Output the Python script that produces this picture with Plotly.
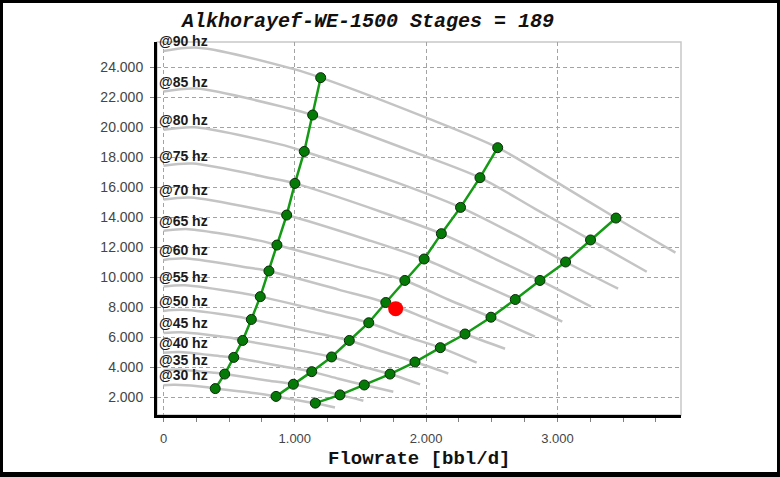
import plotly.graph_objects as go

# ---------------- data ----------------
freqs = [90, 85, 80, 75, 70, 65, 60, 55, 50, 45, 40, 35, 30]

# gray head curves, flow [bbl/d] and head, one pair per frequency
q90 = [0, 265, 1000, 1197, 2000, 2545, 3000, 3446, 3899]
h90 = [25070, 25290, 23840, 23290, 20620, 18620, 16290, 13930, 11620]
q85 = [0, 250, 944, 1136, 1889, 2410, 2833, 3252, 3680]
h85 = [22360, 22560, 21270, 20800, 18390, 16620, 14530, 12470, 10350]
q80 = [0, 236, 889, 1072, 1778, 2262, 2667, 3062, 3462]
h80 = [19810, 19980, 18840, 18370, 16290, 14640, 12870, 11000, 9220]
q75 = [0, 221, 833, 1001, 1667, 2116, 2500, 2867, 3256]
h75 = [17410, 17560, 16560, 16240, 14320, 12890, 11310, 9770, 8020]
q70 = [0, 206, 778, 938, 1556, 1985, 2333, 2679, 3037]
h70 = [15160, 15300, 14420, 14130, 12470, 11200, 9850, 8500, 7020]
q65 = [0, 191, 722, 864, 1444, 1838, 2167, 2494, 2829]
h65 = [13080, 13190, 12440, 12130, 10760, 9770, 8500, 7320, 6020]
q60 = [0, 177, 667, 803, 1333, 1693, 2000, 2296, 2601]
h60 = [11140, 11240, 10600, 10400, 9160, 8300, 7240, 6200, 5220]
q55 = [0, 162, 611, 737, 1222, 1563, 1833, 2108, 2385]
h55 = [9360, 9450, 8900, 8690, 7700, 6950, 6080, 5290, 4290]
q50 = [0, 147, 556, 669, 1111, 1415, 1667, 1915, 2169]
h50 = [7740, 7810, 7360, 7170, 6360, 5770, 5030, 4330, 3570]
q45 = [0, 133, 500, 603, 1000, 1280, 1500, 1725, 1954]
h45 = [6270, 6320, 5960, 5770, 5160, 4670, 4070, 3530, 2840]
q40 = [0, 118, 444, 535, 889, 1129, 1333, 1529, 1750]
h40 = [4950, 5000, 4710, 4640, 4070, 3690, 3220, 2800, 2350]
q35 = [0, 103, 389, 466, 778, 989, 1167, 1344, 1522]
h35 = [3790, 3830, 3610, 3530, 3120, 2850, 2500, 2140, 1750]
q30 = [0, 88, 333, 394, 667, 857, 1000, 1156, 1306]
h30 = [2790, 2810, 2650, 2560, 2290, 2040, 1810, 1590, 1300]

curve_q = [q90, q85, q80, q75, q70, q65, q60, q55, q50, q45, q40, q35, q30]
curve_h = [h90, h85, h80, h75, h70, h65, h60, h55, h50, h45, h40, h35, h30]

# green operating-range lines (90 Hz ... 30 Hz)
min_q = [1197, 1136, 1072, 1001, 938, 864, 803, 737, 669, 603, 535, 466, 394]
min_h = [23290, 20800, 18370, 16240, 14130, 12130, 10400, 8690, 7170, 5770, 4640, 3530, 2560]
bep_q = [2545, 2410, 2262, 2116, 1985, 1838, 1693, 1563, 1415, 1280, 1129, 989, 857]
bep_h = [18620, 16620, 14640, 12890, 11200, 9770, 8300, 6950, 5770, 4670, 3690, 2850, 2040]
max_q = [3446, 3252, 3062, 2867, 2679, 2494, 2296, 2108, 1915, 1725, 1529, 1344, 1156]
max_h = [13930, 12470, 11000, 9770, 8500, 7320, 6200, 5290, 4330, 3530, 2800, 2140, 1590]

# operating point
op_q = [1768]
op_h = [7890]

x_tickvals = [0, 1000, 2000, 3000]
x_ticktext = ["0", "1.000", "2.000", "3.000"]
y_tickvals = [2000, 4000, 6000, 8000, 10000, 12000, 14000, 16000, 18000, 20000, 22000, 24000]
y_ticktext = ["2.000", "4.000", "6.000", "8.000", "10.000", "12.000", "14.000",
              "16.000", "18.000", "20.000", "22.000", "24.000"]

title_text = "Alkhorayef-WE-1500 Stages = 189"
xtitle_text = "Flowrate [bbl/d]"

# ---------------- figure ----------------
fig = go.Figure()

for q, h in zip(curve_q, curve_h):
    fig.add_trace(go.Scatter(x=q, y=h, mode="lines",
                             line=dict(color="#c4c4c4", width=2.5, shape="spline", smoothing=0.8),
                             hoverinfo="skip", showlegend=False))

for q, h in [(min_q, min_h), (bep_q, bep_h), (max_q, max_h)]:
    fig.add_trace(go.Scatter(x=q, y=h, mode="lines+markers",
                             line=dict(color="#159a15", width=2.5),
                             marker=dict(color="#067a06", size=10,
                                         line=dict(color="#0c2a0c", width=1)),
                             showlegend=False))

fig.add_trace(go.Scatter(x=op_q, y=op_h, mode="markers",
                         marker=dict(color="#ff0000", size=15, line=dict(width=0)),
                         showlegend=False))

# frequency labels at the start of each curve
for f, h in zip(freqs, curve_h):
    fig.add_annotation(x=-49.5, y=h[0], xref="x", yref="y", text=f"<b>@{f} hz</b>",
                       showarrow=False, xanchor="left", yanchor="bottom", yshift=0,
                       font=dict(family="Liberation Sans", size=14, color="#1a1a1a"))

L, R, T, B = 157, 99, 42, 62
W, H = 780, 477
pw, ph = W - L - R, H - T - B


def px2paper(px):
    return (px - L) / pw


def py2paper(py):
    return (H - B - py) / ph


fig.add_annotation(x=px2paper(367), y=py2paper(22), xref="paper", yref="paper",
                   text=f"<b><i>{title_text}</i></b>", showarrow=False,
                   xanchor="center", yanchor="middle",
                   font=dict(family="Liberation Mono", size=20, color="#111111"))
fig.add_annotation(x=px2paper(419), y=py2paper(459), xref="paper", yref="paper",
                   text=f"<b>{xtitle_text}</b>", showarrow=False,
                   xanchor="center", yanchor="middle",
                   font=dict(family="Liberation Mono", size=19, color="#111111"))

# light-gray plot border (top/right)
fig.add_shape(type="rect", xref="paper", yref="paper", x0=0, y0=0, x1=1, y1=1,
              line=dict(color="#c8c8c8", width=1.5), layer="below")

# black outer frame of the image
frame = [(-10, -10, 3, H + 10), (W - 3, -10, W + 10, H + 10),
         (-10, -10, W + 10, 3), (-10, H - 5, W + 10, H + 10)]
for x0, y0, x1, y1 in frame:
    fig.add_shape(type="rect", xref="paper", yref="paper",
                  x0=px2paper(x0), x1=px2paper(x1), y0=py2paper(y1), y1=py2paper(y0),
                  fillcolor="black", line=dict(width=0), layer="above")

grid = dict(showgrid=True, gridcolor="#a3a3a3", griddash="4px,3px", gridwidth=1.2, zeroline=False)

fig.update_layout(
    width=W, height=H,
    margin=dict(l=L, r=R, t=T, b=B, pad=0),
    paper_bgcolor="white", plot_bgcolor="white",
    showlegend=False,
    xaxis=dict(range=[-49.5, 3941], tickmode="array", tickvals=x_tickvals, ticktext=x_ticktext,
               ticks="outside", ticklen=4, tickcolor="#808080", tickwidth=1,
               showline=True, linecolor="black", linewidth=3,
               tickfont=dict(family="Liberation Sans", size=13, color="#454545"),
               ticklabelstandoff=5,
               minor=dict(tickmode="linear", tick0=0, dtick=250, ticks="outside", ticklen=4,
                          tickcolor="#808080", showgrid=False),
               **grid),
    yaxis=dict(range=[800, 25667], tickmode="array", tickvals=y_tickvals, ticktext=y_ticktext,
               ticks="outside", ticklen=4, tickcolor="#808080", tickwidth=1,
               showline=True, linecolor="black", linewidth=3,
               tickfont=dict(family="Liberation Sans", size=14, color="#454545"),
               ticklabelstandoff=4,
               **grid),
)

fig.write_html("out.html")
